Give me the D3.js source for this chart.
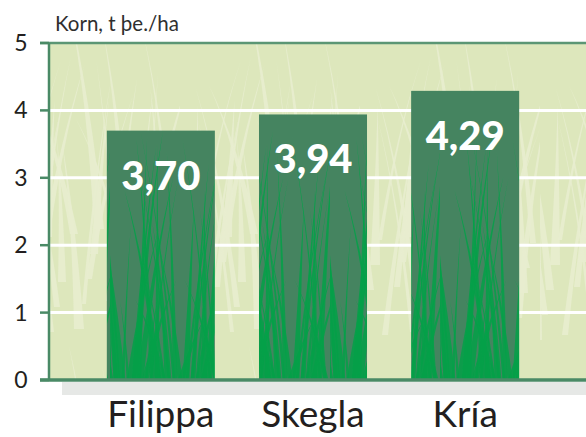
<!DOCTYPE html>
<html>
<head>
<meta charset="utf-8">
<script src="https://cdn.jsdelivr.net/npm/d3@7"></script>
<style>
  body { margin: 0; background: #fff; }
  svg text { font-family: Lato, "DejaVu Sans", sans-serif; }
</style>
</head>
<body>
<svg id="chart" width="586" height="437"></svg>
<script>
const varieties = ['Filippa', 'Skegla', 'Kría'];
const yields = [3.70, 3.94, 4.29];
const yTicks = [0, 1, 2, 3, 4, 5];
const gridValues = [1, 2, 3, 4];
const yTitle = 'Korn, t þe./ha';

const width = 586, height = 437;
const plotLeft = 49, plotTop = 43, plotBottom = 380;

const svg = d3.select('#chart');

const y = d3.scaleLinear()
    .domain([0, 5])
    .range([plotBottom, plotTop]);

const x = d3.scaleBand()
    .domain(varieties)
    .range([plotLeft, 577])
    .paddingInner(0.29)
    .paddingOuter(0.38);

// grass-like texture patterns (decoration only)
const defs = svg.append('defs');

function bladePath(bx, by, len, lean, w) {
    return `M${bx - w},${by} Q${bx + lean * 0.4},${by - len * 0.6} ${bx + lean},${by - len} Q${bx + lean * 0.4 + w * 0.6},${by - len * 0.6} ${bx + w},${by} Z`;
}

let bgPat = defs.append('pattern')
    .attr('id', 'bgGrass')
    .attr('patternUnits', 'userSpaceOnUse')
    .attr('width', 180).attr('height', 340);
bgPat.append('rect').attr('width', 180).attr('height', 340).attr('fill', '#dde7bc');
d3.range(30).forEach(i => {
    let bx = (i * 37) % 180;
    let len = 120 + 110 * Math.abs(Math.sin(i * 1.7));
    let lean = 45 * Math.sin(i * 2.3);
    bgPat.append('path')
        .attr('d', bladePath(bx, 340 - (i * 53) % 120, len, lean, 2 + (i % 4)))
        .attr('fill', '#e8eed0')
        .attr('opacity', 0.9);
});

let barPat = defs.append('pattern')
    .attr('id', 'barGrass')
    .attr('patternUnits', 'userSpaceOnUse')
    .attr('width', 110).attr('height', 300)
    .attr('y', plotBottom);
barPat.append('rect').attr('width', 110).attr('height', 300).attr('fill', '#458460');
d3.range(38).forEach(i => {
    let bx = (i * 29) % 110;
    let len = 60 + 190 * Math.abs(Math.sin(i * 1.3));
    let lean = 34 * Math.sin(i * 2.9);
    barPat.append('path')
        .attr('d', bladePath(bx, 300, len, lean, 1.5 + (i % 3)))
        .attr('fill', '#03a048')
        .attr('opacity', 0.85);
});

// plot background
svg.append('rect')
    .attr('x', plotLeft)
    .attr('y', plotTop)
    .attr('width', width - plotLeft)
    .attr('height', plotBottom - plotTop)
    .attr('fill', 'url(#bgGrass)');

// grey shadow under the baseline
svg.append('rect')
    .attr('x', 62)
    .attr('y', plotBottom + 2)
    .attr('width', width - 62)
    .attr('height', 13)
    .attr('fill', '#e6e8e6');

// white gridlines
svg.selectAll('.grid')
    .data(gridValues)
    .join('line')
    .attr('class', 'grid')
    .attr('x1', plotLeft)
    .attr('x2', width)
    .attr('y1', d => y(d))
    .attr('y2', d => y(d))
    .attr('stroke', '#ffffff')
    .attr('stroke-width', 3);

// bars
svg.selectAll('.bar')
    .data(yields)
    .join('rect')
    .attr('class', 'bar')
    .attr('x', (d, i) => x(varieties[i]))
    .attr('y', d => y(d))
    .attr('width', x.bandwidth())
    .attr('height', d => plotBottom - y(d))
    .attr('fill', 'url(#barGrass)');

// value labels
svg.selectAll('.value')
    .data(yields)
    .join('text')
    .attr('class', 'value')
    .attr('x', (d, i) => x(varieties[i]) + x.bandwidth() / 2)
    .attr('y', d => y(d) + 59)
    .attr('text-anchor', 'middle')
    .attr('fill', '#ffffff')
    .attr('font-size', 40)
    .attr('font-weight', 900)
    .text(d => d.toFixed(2).replace('.', ','));

// axis frame
svg.append('line')
    .attr('x1', 40).attr('x2', width)
    .attr('y1', plotTop).attr('y2', plotTop)
    .attr('stroke', '#5b9674').attr('stroke-width', 2.5);
svg.append('line')
    .attr('x1', plotLeft).attr('x2', plotLeft)
    .attr('y1', plotTop).attr('y2', plotBottom)
    .attr('stroke', '#4a8a66').attr('stroke-width', 2.5);
svg.append('line')
    .attr('x1', 40).attr('x2', width)
    .attr('y1', plotBottom).attr('y2', plotBottom)
    .attr('stroke', '#4a8a66').attr('stroke-width', 3.5);

// y ticks and labels
svg.selectAll('.tick')
    .data(yTicks)
    .join('line')
    .attr('class', 'tick')
    .attr('x1', 40).attr('x2', plotLeft)
    .attr('y1', d => y(d)).attr('y2', d => y(d))
    .attr('stroke', '#4a8a66')
    .attr('stroke-width', 2.5);

svg.selectAll('.ylabel')
    .data(yTicks)
    .join('text')
    .attr('class', 'ylabel')
    .attr('x', 21)
    .attr('y', d => y(d) + 8)
    .attr('text-anchor', 'middle')
    .attr('font-size', 23)
    .attr('fill', '#231f20')
    .text(d => d);

svg.append('text')
    .attr('x', 55)
    .attr('y', 31)
    .attr('font-size', 20.5)
    .attr('fill', '#2f2f2f')
    .text(yTitle);

// category labels
svg.selectAll('.xlabel')
    .data(varieties)
    .join('text')
    .attr('class', 'xlabel')
    .attr('x', d => x(d) + x.bandwidth() / 2)
    .attr('y', 427)
    .attr('text-anchor', 'middle')
    .attr('font-size', 37)
    .attr('fill', '#231f20')
    .text(d => d);
</script>
</body>
</html>
